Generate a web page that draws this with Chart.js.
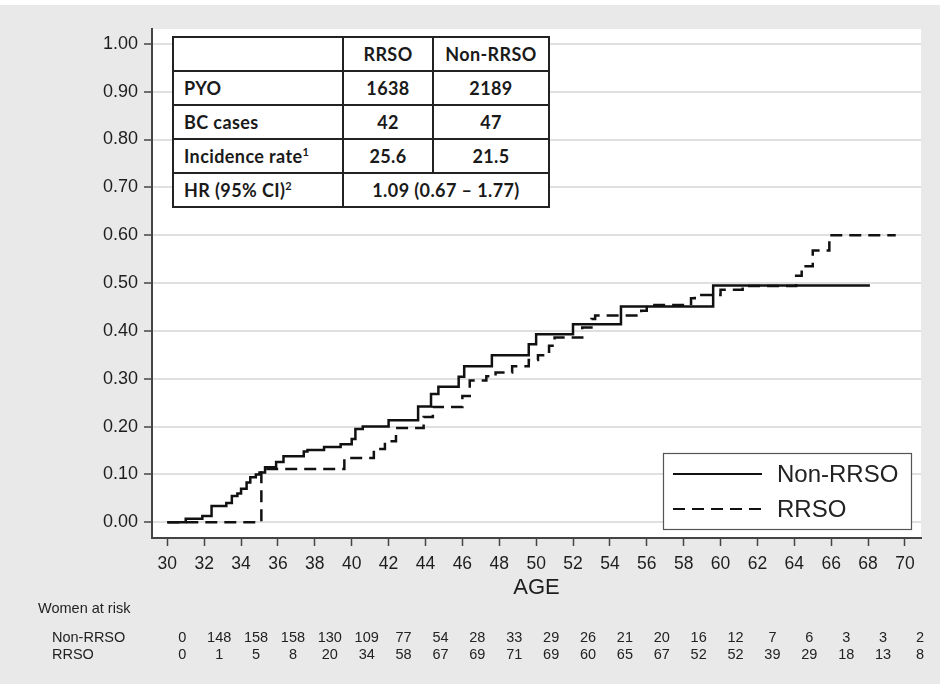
<!DOCTYPE html>
<html>
<head>
<meta charset="utf-8">
<script src="https://cdn.jsdelivr.net/npm/chart.js@4.4.1/dist/chart.umd.min.js"></script>
<style>
    html, body { margin: 0; padding: 0; background: #ffffff; }
    #wrap { position: relative; width: 940px; height: 684px; }
    #chart { position: absolute; left: 0; top: 0; }
    #stats {
        position: absolute; left: 172px; top: 36px; width: 376px;
        table-layout: fixed; border-collapse: collapse; background: #fff;
        font-family: Lato, "Open Sans", sans-serif; font-weight: bold; font-size: 18px;
        letter-spacing: 0.4px; color: #1a1a1a;
    }
    #stats tr { height: 34px; }
    #stats td { border: 2px solid #222; padding: 0; text-align: center; white-space: nowrap; }
    #stats td.lbl { text-align: left; padding-left: 10px; }
    #stats sup { font-size: 11px; vertical-align: 7px; line-height: 0; }
</style>
</head>
<body>
<div id="wrap">
    <canvas id="chart" width="940" height="684"></canvas>
    <table id="stats"></table>
</div>
<script>
(function() {
    'use strict';

    // Kaplan-Meier style cumulative risk
    const nonAge  = [30.0, 31.0, 31.9, 32.4, 33.2, 33.5, 33.8, 34.0, 34.3, 34.5, 34.8, 35.0, 35.3, 35.9, 36.3, 37.4, 37.6, 38.5, 39.4, 40.0, 40.2, 40.6, 42.0, 43.6, 44.3, 44.7, 45.8, 46.1, 47.6, 49.6, 50.0, 52.0, 54.6, 59.6, 68.1];
    const nonRisk = [0.000, 0.007, 0.013, 0.034, 0.040, 0.055, 0.060, 0.070, 0.083, 0.094, 0.100, 0.104, 0.115, 0.126, 0.138, 0.148, 0.151, 0.157, 0.163, 0.174, 0.195, 0.200, 0.213, 0.242, 0.268, 0.283, 0.304, 0.326, 0.349, 0.372, 0.393, 0.414, 0.451, 0.495, 0.495];

    const rrsoAge  = [30.0, 35.1, 39.6, 41.2, 41.8, 42.4, 43.9, 44.4, 46.0, 46.4, 47.3, 47.8, 48.7, 49.6, 50.1, 50.7, 51.0, 52.5, 53.0, 53.2, 55.7, 56.0, 58.4, 58.6, 60.0, 61.2, 64.1, 64.4, 65.0, 65.9, 69.5];
    const rrsoRisk = [0.000, 0.111, 0.134, 0.153, 0.169, 0.197, 0.220, 0.241, 0.264, 0.296, 0.305, 0.313, 0.326, 0.339, 0.349, 0.369, 0.386, 0.407, 0.425, 0.432, 0.442, 0.454, 0.468, 0.475, 0.486, 0.494, 0.515, 0.535, 0.568, 0.600, 0.600];

    const xTicks = [30, 32, 34, 36, 38, 40, 42, 44, 46, 48, 50, 52, 54, 56, 58, 60, 62, 64, 66, 68, 70];
    const yTicks = [0, 0.1, 0.2, 0.3, 0.4, 0.5, 0.6, 0.7, 0.8, 0.9, 1.0];

    // Women at risk, one per x tick
    const atRiskNon  = [0, 148, 158, 158, 130, 109, 77, 54, 28, 33, 29, 26, 21, 20, 16, 12, 7, 6, 3, 3, 2];
    const atRiskRrso = [0, 1, 5, 8, 20, 34, 58, 67, 69, 71, 69, 60, 65, 67, 52, 52, 39, 29, 18, 13, 8];

    // Inset table
    const tableHead = ['', 'RRSO', 'Non-RRSO'];
    const tableRows = [
        ['PYO', '1638', '2189'],
        ['BC cases', '42', '47'],
        ['Incidence rate<sup>1</sup>', '25.6', '21.5']
    ];
    const hrLabel = 'HR (95% CI)<sup>2</sup>';
    const hrValue = '1.09 (0.67 \u2013 1.77)';

    const seriesNames = ['Non-RRSO', 'RRSO'];

    // build inset table
    const table = document.getElementById('stats');
    const colW = [170, 90, 116];
    let html = '<colgroup>' + colW.map(w => `<col style="width:${w}px">`).join('') + '</colgroup>';
    html += '<tr>' + tableHead.map((h, i) => `<td class="${i === 0 ? 'lbl' : ''}">${h}</td>`).join('') + '</tr>';
    tableRows.forEach(r => {
        html += '<tr>' + r.map((c, i) => `<td class="${i === 0 ? 'lbl' : ''}">${c}</td>`).join('') + '</tr>';
    });
    html += `<tr><td class="lbl">${hrLabel}</td><td colspan="2">${hrValue}</td></tr>`;
    table.innerHTML = html;

    const toPoints = (xs, ys) => xs.map((x, i) => ({ x: x, y: ys[i] }));

    const bgPlugin = {
        id: 'bgPlugin',
        beforeDraw(chart) {
            const { ctx, chartArea } = chart;
            ctx.save();
            ctx.fillStyle = '#e9e9e9';
            ctx.fillRect(0, 5, chart.width, chart.height - 5);
            ctx.fillStyle = '#ffffff';
            ctx.fillRect(chartArea.left, chartArea.top, chartArea.right - chartArea.left, chartArea.bottom - chartArea.top);
            ctx.restore();
        }
    };

    const extrasPlugin = {
        id: 'extrasPlugin',
        afterDraw(chart) {
            const ctx = chart.ctx;
            const xs = chart.scales.x;
            ctx.save();

            // legend box
            ctx.fillStyle = '#fff';
            ctx.fillRect(663, 453, 248, 76);
            ctx.strokeStyle = '#555';
            ctx.lineWidth = 1.2;
            ctx.strokeRect(663.5, 453.5, 248, 76);
            chart.data.datasets.forEach((ds, i) => {
                const y = 474 + i * 35;
                ctx.strokeStyle = ds.borderColor;
                ctx.lineWidth = 2.2;
                ctx.setLineDash(ds.borderDash || []);
                ctx.beginPath();
                ctx.moveTo(673, y);
                ctx.lineTo(762, y);
                ctx.stroke();
                ctx.setLineDash([]);
                ctx.fillStyle = '#222';
                ctx.font = '24px "Liberation Sans", Arial, sans-serif';
                ctx.textBaseline = 'middle';
                ctx.textAlign = 'left';
                ctx.fillText(ds.label, 777, y + 1);
            });

            // women at risk
            ctx.font = '14.5px "Liberation Sans Narrow", "Liberation Sans", Arial, sans-serif';
            ctx.fillStyle = '#222';
            ctx.textAlign = 'left';
            ctx.textBaseline = 'middle';
            ctx.fillText('Women at risk', 38, 609);
            ctx.fillText(seriesNames[0], 52, 638);
            ctx.fillText(seriesNames[1], 52, 655);
            ctx.textAlign = 'center';
            xTicks.forEach((t, i) => {
                const px = xs.getPixelForValue(t) + 15;
                ctx.fillText(String(atRiskNon[i]), px, 638);
                ctx.fillText(String(atRiskRrso[i]), px, 655);
            });
            ctx.restore();
        }
    };

    const ctx = document.getElementById('chart').getContext('2d');
    new Chart(ctx, {
        type: 'line',
        data: {
            datasets: [
                {
                    label: seriesNames[0],
                    data: toPoints(nonAge, nonRisk),
                    borderColor: '#111',
                    borderWidth: 2.5,
                    pointRadius: 0,
                    stepped: 'before',
                    fill: false
                },
                {
                    label: seriesNames[1],
                    data: toPoints(rrsoAge, rrsoRisk),
                    borderColor: '#111',
                    borderWidth: 2.5,
                    borderDash: [12, 7],
                    pointRadius: 0,
                    stepped: 'before',
                    fill: false
                }
            ]
        },
        options: {
            responsive: false,
            animation: false,
            layout: { padding: { top: 29, right: 19, left: 0, bottom: 0 } },
            plugins: {
                legend: { display: false },
                tooltip: { enabled: false }
            },
            scales: {
                x: {
                    type: 'linear',
                    min: 29.17,
                    max: 70.87,
                    afterBuildTicks: (scale) => { scale.ticks = xTicks.map(v => ({ value: v })); },
                    afterFit: (scale) => { scale.height = 146; },
                    ticks: {
                        autoSkip: false,
                        maxRotation: 0,
                        padding: 8,
                        color: '#1e1e1e',
                        font: { family: '"Liberation Sans", Arial, sans-serif', size: 17.5 }
                    },
                    grid: {
                        drawOnChartArea: false,
                        tickLength: 8,
                        tickColor: '#444',
                        tickWidth: 1.5
                    },
                    border: { color: '#444', width: 2 },
                    title: {
                        display: true,
                        text: 'AGE',
                        color: '#1e1e1e',
                        font: { family: '"Liberation Sans", Arial, sans-serif', size: 22 },
                        padding: { top: 0, bottom: 83 }
                    }
                },
                y: {
                    min: -0.033,
                    max: 1.031,
                    afterBuildTicks: (scale) => { scale.ticks = yTicks.map(v => ({ value: v })); },
                    afterFit: (scale) => { scale.width = 152; },
                    ticks: {
                        padding: 6,
                        color: '#1e1e1e',
                        font: { family: '"Liberation Sans", Arial, sans-serif', size: 18 },
                        callback: (v) => Number(v).toFixed(2)
                    },
                    grid: {
                        color: '#e0e0e0',
                        lineWidth: 2,
                        tickLength: 8,
                        tickColor: '#444',
                        tickWidth: 1.5
                    },
                    border: { color: '#444', width: 2 }
                }
            }
        },
        plugins: [bgPlugin, extrasPlugin]
    });
})();
</script>
</body>
</html>
